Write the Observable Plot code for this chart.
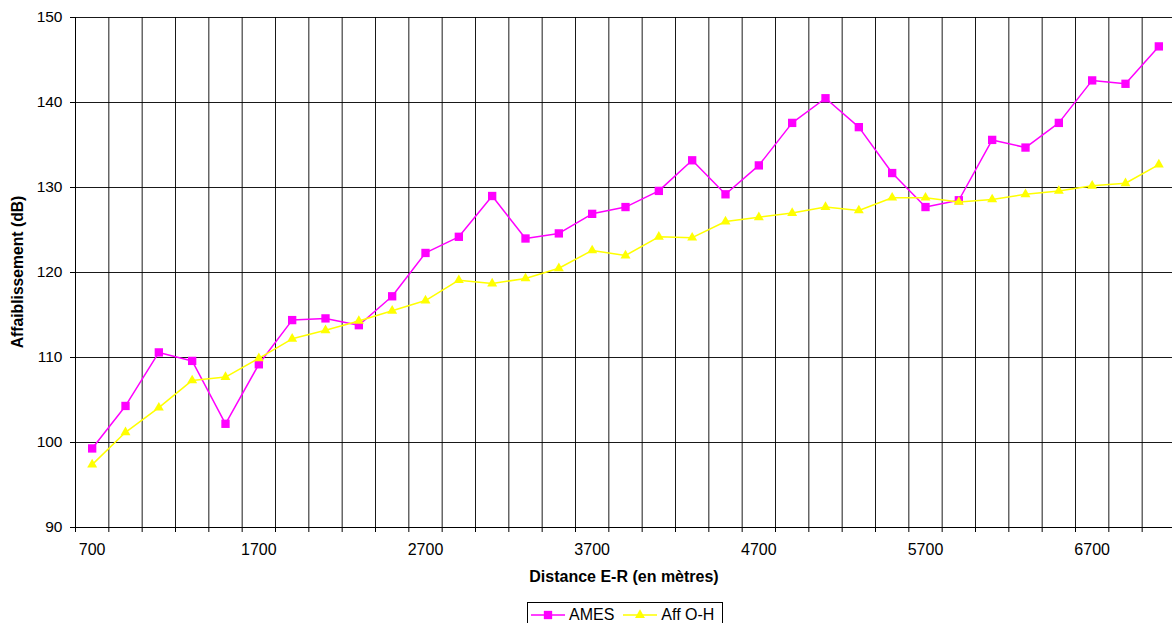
<!DOCTYPE html>
<html>
<head>
<meta charset="utf-8">
<script src="https://cdn.jsdelivr.net/npm/d3@7"></script>
<script src="https://cdn.jsdelivr.net/npm/@observablehq/plot@0.6"></script>
<style>
  body { margin: 0; background: #fff; font-family: "Liberation Sans", Arial, sans-serif; }
  #legend { display: flex; justify-content: flex-start; margin-top: 4px; padding-left: 527px; }
  #legend .box { border: 1px solid #000; display: inline-flex; align-items: center; padding: 3px 8px 3px 3px; font-size: 16px; line-height: 18px; }
  #legend .item { display: inline-flex; align-items: center; margin-right: 9px; }
  #legend .item:last-child { margin-right: 0; }
  #legend svg { margin-right: 4px; }
</style>
</head>
<body>
<div id="chart"></div>
<div id="legend"></div>
<script>
// Categories: distance E-R (m)
const distances = [700, 900, 1100, 1300, 1500, 1700, 1900, 2100, 2300, 2500, 2700, 2900, 3100, 3300, 3500, 3700, 3900, 4100, 4300, 4500, 4700, 4900, 5100, 5300, 5500, 5700, 5900, 6100, 6300, 6500, 6700, 6900, 7100];
// Series values (dB)
const ames  = [99.3, 104.3, 110.6, 109.6, 102.2, 109.2, 114.4, 114.6, 113.8, 117.2, 122.3, 124.2, 129.0, 124.0, 124.6, 126.9, 127.7, 129.6, 133.2, 129.2, 132.6, 137.6, 140.5, 137.1, 131.7, 127.7, 128.5, 135.6, 134.7, 137.6, 142.6, 142.2, 146.6];
const affOH = [97.4, 101.2, 104.1, 107.3, 107.7, 109.9, 112.2, 113.2, 114.3, 115.5, 116.7, 119.1, 118.7, 119.3, 120.5, 122.6, 122.0, 124.2, 124.1, 126.0, 126.5, 127.0, 127.7, 127.3, 128.8, 128.8, 128.3, 128.6, 129.2, 129.6, 130.2, 130.5, 132.7];
// Tick labels / category boundaries
const xLabels = [700, 1700, 2700, 3700, 4700, 5700, 6700];
const xBoundaries = [600, 800, 1000, 1200, 1400, 1600, 1800, 2000, 2200, 2400, 2600, 2800, 3000, 3200, 3400, 3600, 3800, 4000, 4200, 4400, 4600, 4800, 5000, 5200, 5400, 5600, 5800, 6000, 6200, 6400, 6600, 6800, 7000, 7200];
const yTicks = [90, 100, 110, 120, 130, 140, 150];
const seriesNames = ["AMES", "Aff O-H"];
const seriesColors = ["#FF00FF", "#FFFF00"];
const seriesSymbols = ["square", "triangle"];
const xTitle = "Distance E-R (en mètres)";
const yTitle = "Affaiblissement (dB)";

const rows = distances.map((d, i) => ({dist: d, ames: ames[i], aff: affOH[i]}));

const chart = Plot.plot({
  width: 1172,
  height: 598,
  marginLeft: 75,
  marginRight: 0,
  marginTop: 17,
  marginBottom: 71,
  style: {fontFamily: "'Liberation Sans', Arial, sans-serif", fontSize: "16px", color: "#000", background: "#fff"},
  x: {type: "linear", domain: [600, 7200], range: [75, 1175]},
  y: {domain: [90, 150]},
  marks: [
    Plot.gridX(xBoundaries, {stroke: "#000", strokeOpacity: 0.9}),
    Plot.gridY(yTicks, {stroke: "#000", strokeOpacity: 0.9}),
    Plot.axisY(yTicks, {tickSize: 5, tickPadding: 8, fontSize: 15.5, label: null, stroke: "#000"}),
    Plot.axisX(xBoundaries, {tickSize: 5, tickFormat: () => "", label: null, stroke: "#000"}),
    Plot.axisX(xLabels, {tickSize: 0, tickPadding: 16, fontSize: 16, label: null, tickFormat: d => String(d)}),
    Plot.ruleX([600], {stroke: "#000"}),
    Plot.ruleY([90], {stroke: "#000"}),
    Plot.line(rows, {x: "dist", y: "ames", stroke: seriesColors[0], strokeWidth: 1.5}),
    Plot.dot(rows, {x: "dist", y: "ames", symbol: seriesSymbols[0], r: 4.7, fill: seriesColors[0], stroke: "none"}),
    Plot.line(rows, {x: "dist", y: "aff", stroke: seriesColors[1], strokeWidth: 1.5}),
    Plot.dot(rows, {x: "dist", y: "aff", symbol: seriesSymbols[1], r: 3.7, fill: seriesColors[1], stroke: "none"})
  ]
});

const svg = d3.select(chart);
svg.append("text")
  .attr("x", 624).attr("y", 581.5)
  .attr("text-anchor", "middle")
  .attr("font-weight", "bold").attr("font-size", 16)
  .attr("fill", "#000")
  .text(xTitle);
svg.append("text")
  .attr("transform", "translate(23,272) rotate(-90)")
  .attr("text-anchor", "middle")
  .attr("font-weight", "bold").attr("font-size", 15.7)
  .attr("fill", "#000")
  .text(yTitle);

document.getElementById("chart").appendChild(chart);

// Legend
const box = d3.select("#legend").append("div").attr("class", "box");
seriesNames.forEach((name, i) => {
  const item = box.append("span").attr("class", "item");
  const s = item.append("svg").attr("width", 34).attr("height", 14);
  s.append("line").attr("x1", 0).attr("x2", 34).attr("y1", 7).attr("y2", 7)
    .attr("stroke", seriesColors[i]).attr("stroke-width", 1.5);
  const sym = seriesSymbols[i] === "square" ? d3.symbolSquare : d3.symbolTriangle;
  const r = seriesSymbols[i] === "square" ? 4.7 : 3.7;
  s.append("path").attr("transform", "translate(17,7)")
    .attr("d", d3.symbol(sym, Math.PI * r * r)())
    .attr("fill", seriesColors[i]);
  item.append("span").text(name);
});
</script>
</body>
</html>
